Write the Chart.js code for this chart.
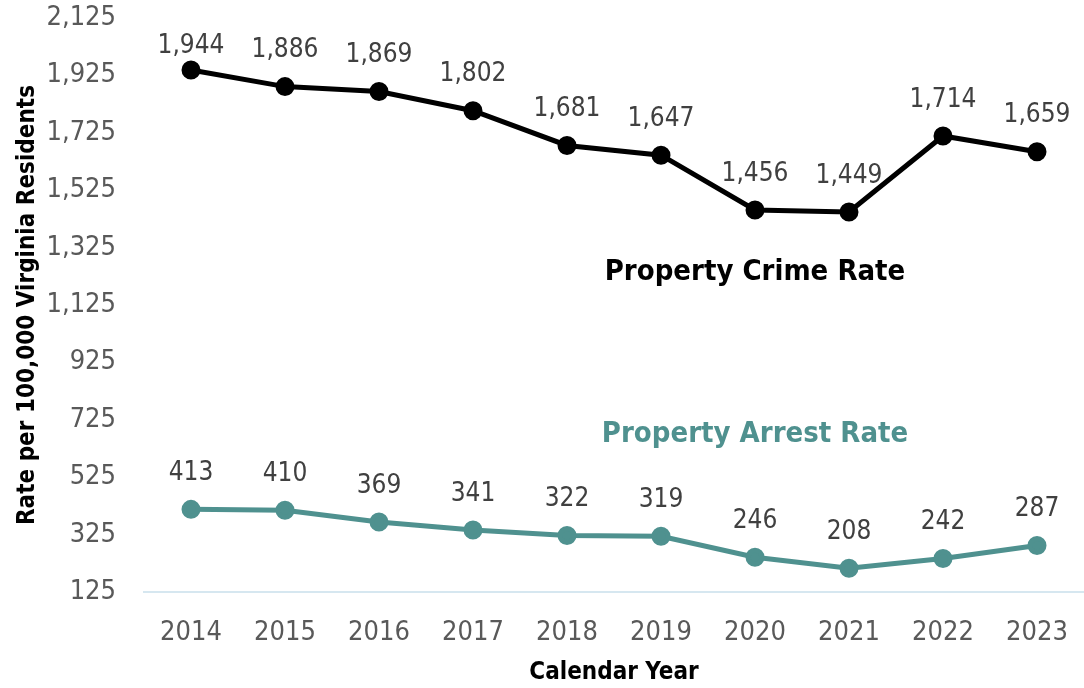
<!DOCTYPE html>
<html>
<head>
<meta charset="utf-8">
<script src="https://cdn.jsdelivr.net/npm/chart.js@4/dist/chart.umd.min.js"></script>
<style>
  html, body { margin: 0; padding: 0; background: #ffffff; }
  #wrap { width: 1084px; height: 688px; position: relative; }
</style>
</head>
<body>
<div id="wrap"><canvas id="chart"></canvas></div>
<script>
const years = ['2014', '2015', '2016', '2017', '2018', '2019', '2020', '2021', '2022', '2023'];
const crimeRate = [1944, 1886, 1869, 1802, 1681, 1647, 1456, 1449, 1714, 1659];
const arrestRate = [413, 410, 369, 341, 322, 319, 246, 208, 242, 287];
const yMin = 125, yMax = 2125, yStep = 200;
const seriesNames = ['Property Crime Rate', 'Property Arrest Rate'];
// where each series name sits, in axis units (category index, rate)
const crimeNameAt = [6, 1240];
const arrestNameAt = [6, 675];

const FONT = '"Liberation Sans Narrow", "Arial Narrow", "DejaVu Sans Condensed", sans-serif';
const BLACK = '#000000';
const TEAL = '#4f918f';

const valueLabels = {
  id: 'valueLabels',
  afterDatasetsDraw(chart) {
    const ctx = chart.ctx;
    ctx.save();
    ctx.font = '26px ' + FONT;
    ctx.fillStyle = '#404040';
    ctx.textAlign = 'center';
    ctx.textBaseline = 'middle';
    chart.data.datasets.forEach((ds, i) => {
      const meta = chart.getDatasetMeta(i);
      meta.data.forEach((pt, j) => {
        const y = Math.max(pt.y - 36, 46);
        ctx.fillText(ds.data[j].toLocaleString('en-US'), pt.x, y);
      });
    });
    ctx.restore();
  }
};

const seriesTitles = {
  id: 'seriesTitles',
  afterDatasetsDraw(chart) {
    const ctx = chart.ctx;
    const xs = chart.scales.x, ys = chart.scales.y;
    ctx.save();
    ctx.font = 'bold 29px ' + FONT;
    ctx.textAlign = 'center';
    ctx.textBaseline = 'middle';
    ctx.fillStyle = BLACK;
    ctx.fillText(seriesNames[0], xs.getPixelForValue(crimeNameAt[0]), ys.getPixelForValue(crimeNameAt[1]));
    ctx.fillStyle = TEAL;
    ctx.fillText(seriesNames[1], xs.getPixelForValue(arrestNameAt[0]), ys.getPixelForValue(arrestNameAt[1]));
    ctx.restore();
  }
};

new Chart(document.getElementById('chart'), {
  type: 'line',
  data: {
    labels: years,
    datasets: [
      {
        label: seriesNames[0],
        data: crimeRate,
        borderColor: BLACK,
        backgroundColor: BLACK,
        borderWidth: 5,
        pointRadius: 7,
        pointHoverRadius: 7,
        tension: 0
      },
      {
        label: seriesNames[1],
        data: arrestRate,
        borderColor: TEAL,
        backgroundColor: TEAL,
        borderWidth: 5,
        pointRadius: 7,
        pointHoverRadius: 7,
        tension: 0
      }
    ]
  },
  options: {
    responsive: true,
    maintainAspectRatio: false,
    animation: false,
    layout: { autoPadding: false, padding: { top: 0, right: 0, bottom: 1, left: 0 } },
    plugins: {
      legend: { display: false },
      tooltip: { enabled: false }
    },
    scales: {
      x: {
        offset: true,
        grid: { display: false, drawTicks: false },
        border: { display: true, color: '#d6e7f0', width: 2 },
        ticks: {
          color: '#595959',
          font: { family: FONT, size: 27 },
          padding: 25
        },
        title: {
          display: true,
          text: 'Calendar Year',
          color: BLACK,
          font: { family: FONT, size: 24, weight: 'bold' },
          padding: { top: 9, bottom: 0 }
        },
        afterFit(scale) {
          scale.height = 95;
          scale.paddingLeft = 0;
          scale.paddingRight = 0;
        }
      },
      y: {
        min: yMin,
        max: yMax,
        grid: { display: false, drawTicks: false },
        border: { display: false },
        ticks: {
          stepSize: yStep,
          color: '#595959',
          font: { family: FONT, size: 27 },
          padding: 28,
          callback: v => v.toLocaleString('en-US')
        },
        title: {
          display: true,
          text: 'Rate per 100,000 Virginia Residents',
          color: BLACK,
          font: { family: FONT, size: 24, weight: 'bold' },
          padding: { top: 13, bottom: 6 }
        },
        afterFit(scale) {
          scale.width = 144;
          scale.paddingTop = 18;
          scale.paddingBottom = 0;
        }
      }
    }
  },
  plugins: [valueLabels, seriesTitles]
});
</script>
</body>
</html>
